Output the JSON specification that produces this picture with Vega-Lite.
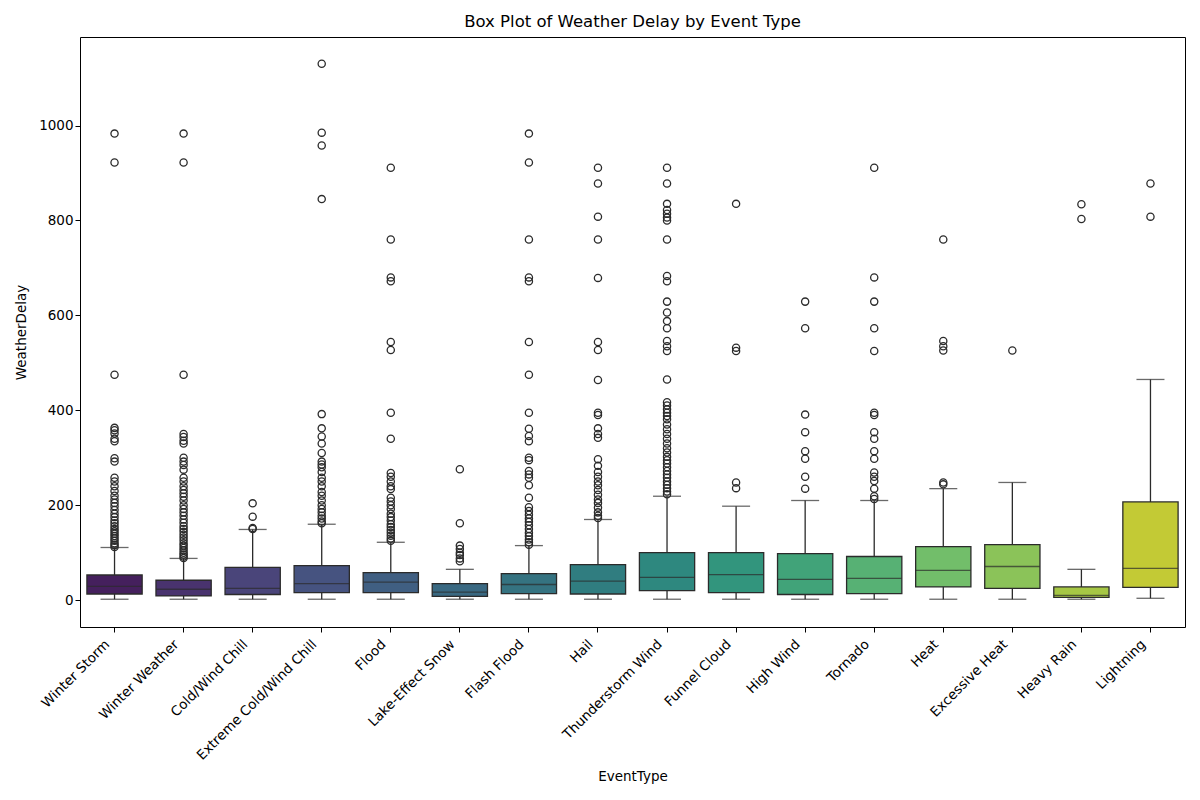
{
  "$schema": "https://vega.github.io/schema/vega-lite/v6.json",
  "width": 1105,
  "height": 590,
  "autosize": "none",
  "padding": {"left": 80, "top": 37, "right": 15, "bottom": 173},
  "background": "white",
  "config": {
    "font": "DejaVu Sans",
    "view": {"stroke": "#000000", "strokeWidth": 1},
    "axis": {"labelFont": "DejaVu Sans", "titleFont": "DejaVu Sans", "labelColor": "#000", "titleColor": "#000", "titleFontWeight": "normal", "labelFontSize": 13.5, "titleFontSize": 13.5, "tickColor": "#000", "domain": false, "grid": false, "tickSize": 5}
  },
  "title": {"text": "Box Plot of Weather Delay by Event Type", "fontSize": 16.5, "fontWeight": "normal", "font": "DejaVu Sans", "color": "#000", "offset": 7},
  "datasets": {
    "boxes": [
      {"EventType": "Winter Storm", "lower": 2, "q1": 13, "median": 29, "q3": 53, "upper": 111},
      {"EventType": "Winter Weather", "lower": 2, "q1": 9, "median": 23, "q3": 42, "upper": 88},
      {"EventType": "Cold/Wind Chill", "lower": 2, "q1": 12, "median": 25, "q3": 69, "upper": 149},
      {"EventType": "Extreme Cold/Wind Chill", "lower": 2, "q1": 16, "median": 35, "q3": 73, "upper": 160},
      {"EventType": "Flood", "lower": 2, "q1": 16, "median": 38, "q3": 58, "upper": 122},
      {"EventType": "Lake-Effect Snow", "lower": 2, "q1": 8, "median": 17, "q3": 35, "upper": 65},
      {"EventType": "Flash Flood", "lower": 2, "q1": 14, "median": 33, "q3": 56, "upper": 115},
      {"EventType": "Hail", "lower": 2, "q1": 13, "median": 40, "q3": 75, "upper": 170},
      {"EventType": "Thunderstorm Wind", "lower": 2, "q1": 20, "median": 48, "q3": 100, "upper": 219},
      {"EventType": "Funnel Cloud", "lower": 2, "q1": 16, "median": 54, "q3": 100, "upper": 198},
      {"EventType": "High Wind", "lower": 2, "q1": 12, "median": 44, "q3": 98, "upper": 210},
      {"EventType": "Tornado", "lower": 2, "q1": 14, "median": 46, "q3": 92, "upper": 210},
      {"EventType": "Heat", "lower": 2, "q1": 28, "median": 63, "q3": 113, "upper": 235},
      {"EventType": "Excessive Heat", "lower": 2, "q1": 25, "median": 71, "q3": 117, "upper": 248},
      {"EventType": "Heavy Rain", "lower": 2, "q1": 6, "median": 10, "q3": 28, "upper": 65},
      {"EventType": "Lightning", "lower": 4, "q1": 27, "median": 67, "q3": 207, "upper": 465}
    ],
    "outliers": [
      {"EventType": "Winter Storm", "WeatherDelay": 983}, {"EventType": "Winter Storm", "WeatherDelay": 922}, {"EventType": "Winter Storm", "WeatherDelay": 475}, {"EventType": "Winter Storm", "WeatherDelay": 363}, {"EventType": "Winter Storm", "WeatherDelay": 358}, {"EventType": "Winter Storm", "WeatherDelay": 351}, {"EventType": "Winter Storm", "WeatherDelay": 340}, {"EventType": "Winter Storm", "WeatherDelay": 335}, {"EventType": "Winter Storm", "WeatherDelay": 299}, {"EventType": "Winter Storm", "WeatherDelay": 292}, {"EventType": "Winter Storm", "WeatherDelay": 258}, {"EventType": "Winter Storm", "WeatherDelay": 250}, {"EventType": "Winter Storm", "WeatherDelay": 240}, {"EventType": "Winter Storm", "WeatherDelay": 230}, {"EventType": "Winter Storm", "WeatherDelay": 220}, {"EventType": "Winter Storm", "WeatherDelay": 212}, {"EventType": "Winter Storm", "WeatherDelay": 205}, {"EventType": "Winter Storm", "WeatherDelay": 198}, {"EventType": "Winter Storm", "WeatherDelay": 190}, {"EventType": "Winter Storm", "WeatherDelay": 182}, {"EventType": "Winter Storm", "WeatherDelay": 175}, {"EventType": "Winter Storm", "WeatherDelay": 168}, {"EventType": "Winter Storm", "WeatherDelay": 162}, {"EventType": "Winter Storm", "WeatherDelay": 156}, {"EventType": "Winter Storm", "WeatherDelay": 150}, {"EventType": "Winter Storm", "WeatherDelay": 145}, {"EventType": "Winter Storm", "WeatherDelay": 140}, {"EventType": "Winter Storm", "WeatherDelay": 135}, {"EventType": "Winter Storm", "WeatherDelay": 130}, {"EventType": "Winter Storm", "WeatherDelay": 125}, {"EventType": "Winter Storm", "WeatherDelay": 120}, {"EventType": "Winter Storm", "WeatherDelay": 116}, {"EventType": "Winter Storm", "WeatherDelay": 112},
      {"EventType": "Winter Weather", "WeatherDelay": 983}, {"EventType": "Winter Weather", "WeatherDelay": 922}, {"EventType": "Winter Weather", "WeatherDelay": 475}, {"EventType": "Winter Weather", "WeatherDelay": 350}, {"EventType": "Winter Weather", "WeatherDelay": 344}, {"EventType": "Winter Weather", "WeatherDelay": 336}, {"EventType": "Winter Weather", "WeatherDelay": 330}, {"EventType": "Winter Weather", "WeatherDelay": 300}, {"EventType": "Winter Weather", "WeatherDelay": 292}, {"EventType": "Winter Weather", "WeatherDelay": 285}, {"EventType": "Winter Weather", "WeatherDelay": 275}, {"EventType": "Winter Weather", "WeatherDelay": 258}, {"EventType": "Winter Weather", "WeatherDelay": 250}, {"EventType": "Winter Weather", "WeatherDelay": 240}, {"EventType": "Winter Weather", "WeatherDelay": 232}, {"EventType": "Winter Weather", "WeatherDelay": 225}, {"EventType": "Winter Weather", "WeatherDelay": 218}, {"EventType": "Winter Weather", "WeatherDelay": 210}, {"EventType": "Winter Weather", "WeatherDelay": 200}, {"EventType": "Winter Weather", "WeatherDelay": 192}, {"EventType": "Winter Weather", "WeatherDelay": 185}, {"EventType": "Winter Weather", "WeatherDelay": 178}, {"EventType": "Winter Weather", "WeatherDelay": 170}, {"EventType": "Winter Weather", "WeatherDelay": 163}, {"EventType": "Winter Weather", "WeatherDelay": 156}, {"EventType": "Winter Weather", "WeatherDelay": 150}, {"EventType": "Winter Weather", "WeatherDelay": 144}, {"EventType": "Winter Weather", "WeatherDelay": 138}, {"EventType": "Winter Weather", "WeatherDelay": 132}, {"EventType": "Winter Weather", "WeatherDelay": 126}, {"EventType": "Winter Weather", "WeatherDelay": 120}, {"EventType": "Winter Weather", "WeatherDelay": 115}, {"EventType": "Winter Weather", "WeatherDelay": 110}, {"EventType": "Winter Weather", "WeatherDelay": 105}, {"EventType": "Winter Weather", "WeatherDelay": 100}, {"EventType": "Winter Weather", "WeatherDelay": 96}, {"EventType": "Winter Weather", "WeatherDelay": 92}, {"EventType": "Winter Weather", "WeatherDelay": 89},
      {"EventType": "Cold/Wind Chill", "WeatherDelay": 204}, {"EventType": "Cold/Wind Chill", "WeatherDelay": 176}, {"EventType": "Cold/Wind Chill", "WeatherDelay": 152}, {"EventType": "Cold/Wind Chill", "WeatherDelay": 150},
      {"EventType": "Extreme Cold/Wind Chill", "WeatherDelay": 1130}, {"EventType": "Extreme Cold/Wind Chill", "WeatherDelay": 985}, {"EventType": "Extreme Cold/Wind Chill", "WeatherDelay": 958}, {"EventType": "Extreme Cold/Wind Chill", "WeatherDelay": 845}, {"EventType": "Extreme Cold/Wind Chill", "WeatherDelay": 392}, {"EventType": "Extreme Cold/Wind Chill", "WeatherDelay": 362}, {"EventType": "Extreme Cold/Wind Chill", "WeatherDelay": 345}, {"EventType": "Extreme Cold/Wind Chill", "WeatherDelay": 330}, {"EventType": "Extreme Cold/Wind Chill", "WeatherDelay": 310}, {"EventType": "Extreme Cold/Wind Chill", "WeatherDelay": 292}, {"EventType": "Extreme Cold/Wind Chill", "WeatherDelay": 286}, {"EventType": "Extreme Cold/Wind Chill", "WeatherDelay": 280}, {"EventType": "Extreme Cold/Wind Chill", "WeatherDelay": 270}, {"EventType": "Extreme Cold/Wind Chill", "WeatherDelay": 258}, {"EventType": "Extreme Cold/Wind Chill", "WeatherDelay": 250}, {"EventType": "Extreme Cold/Wind Chill", "WeatherDelay": 240}, {"EventType": "Extreme Cold/Wind Chill", "WeatherDelay": 228}, {"EventType": "Extreme Cold/Wind Chill", "WeatherDelay": 220}, {"EventType": "Extreme Cold/Wind Chill", "WeatherDelay": 210}, {"EventType": "Extreme Cold/Wind Chill", "WeatherDelay": 200}, {"EventType": "Extreme Cold/Wind Chill", "WeatherDelay": 192}, {"EventType": "Extreme Cold/Wind Chill", "WeatherDelay": 185}, {"EventType": "Extreme Cold/Wind Chill", "WeatherDelay": 178}, {"EventType": "Extreme Cold/Wind Chill", "WeatherDelay": 172}, {"EventType": "Extreme Cold/Wind Chill", "WeatherDelay": 166}, {"EventType": "Extreme Cold/Wind Chill", "WeatherDelay": 162},
      {"EventType": "Flood", "WeatherDelay": 911}, {"EventType": "Flood", "WeatherDelay": 760}, {"EventType": "Flood", "WeatherDelay": 680}, {"EventType": "Flood", "WeatherDelay": 672}, {"EventType": "Flood", "WeatherDelay": 544}, {"EventType": "Flood", "WeatherDelay": 527}, {"EventType": "Flood", "WeatherDelay": 395}, {"EventType": "Flood", "WeatherDelay": 340}, {"EventType": "Flood", "WeatherDelay": 268}, {"EventType": "Flood", "WeatherDelay": 260}, {"EventType": "Flood", "WeatherDelay": 250}, {"EventType": "Flood", "WeatherDelay": 240}, {"EventType": "Flood", "WeatherDelay": 234}, {"EventType": "Flood", "WeatherDelay": 216}, {"EventType": "Flood", "WeatherDelay": 208}, {"EventType": "Flood", "WeatherDelay": 200}, {"EventType": "Flood", "WeatherDelay": 192}, {"EventType": "Flood", "WeatherDelay": 182}, {"EventType": "Flood", "WeatherDelay": 175}, {"EventType": "Flood", "WeatherDelay": 168}, {"EventType": "Flood", "WeatherDelay": 160}, {"EventType": "Flood", "WeatherDelay": 154}, {"EventType": "Flood", "WeatherDelay": 148}, {"EventType": "Flood", "WeatherDelay": 142}, {"EventType": "Flood", "WeatherDelay": 136}, {"EventType": "Flood", "WeatherDelay": 130}, {"EventType": "Flood", "WeatherDelay": 125},
      {"EventType": "Lake-Effect Snow", "WeatherDelay": 276}, {"EventType": "Lake-Effect Snow", "WeatherDelay": 162}, {"EventType": "Lake-Effect Snow", "WeatherDelay": 115}, {"EventType": "Lake-Effect Snow", "WeatherDelay": 108}, {"EventType": "Lake-Effect Snow", "WeatherDelay": 100}, {"EventType": "Lake-Effect Snow", "WeatherDelay": 95}, {"EventType": "Lake-Effect Snow", "WeatherDelay": 88}, {"EventType": "Lake-Effect Snow", "WeatherDelay": 82},
      {"EventType": "Flash Flood", "WeatherDelay": 983}, {"EventType": "Flash Flood", "WeatherDelay": 922}, {"EventType": "Flash Flood", "WeatherDelay": 760}, {"EventType": "Flash Flood", "WeatherDelay": 680}, {"EventType": "Flash Flood", "WeatherDelay": 672}, {"EventType": "Flash Flood", "WeatherDelay": 544}, {"EventType": "Flash Flood", "WeatherDelay": 475}, {"EventType": "Flash Flood", "WeatherDelay": 395}, {"EventType": "Flash Flood", "WeatherDelay": 361}, {"EventType": "Flash Flood", "WeatherDelay": 346}, {"EventType": "Flash Flood", "WeatherDelay": 335}, {"EventType": "Flash Flood", "WeatherDelay": 300}, {"EventType": "Flash Flood", "WeatherDelay": 295}, {"EventType": "Flash Flood", "WeatherDelay": 272}, {"EventType": "Flash Flood", "WeatherDelay": 265}, {"EventType": "Flash Flood", "WeatherDelay": 258}, {"EventType": "Flash Flood", "WeatherDelay": 242}, {"EventType": "Flash Flood", "WeatherDelay": 216}, {"EventType": "Flash Flood", "WeatherDelay": 196}, {"EventType": "Flash Flood", "WeatherDelay": 188}, {"EventType": "Flash Flood", "WeatherDelay": 180}, {"EventType": "Flash Flood", "WeatherDelay": 172}, {"EventType": "Flash Flood", "WeatherDelay": 165}, {"EventType": "Flash Flood", "WeatherDelay": 158}, {"EventType": "Flash Flood", "WeatherDelay": 150}, {"EventType": "Flash Flood", "WeatherDelay": 142}, {"EventType": "Flash Flood", "WeatherDelay": 135}, {"EventType": "Flash Flood", "WeatherDelay": 128}, {"EventType": "Flash Flood", "WeatherDelay": 122}, {"EventType": "Flash Flood", "WeatherDelay": 117},
      {"EventType": "Hail", "WeatherDelay": 911}, {"EventType": "Hail", "WeatherDelay": 878}, {"EventType": "Hail", "WeatherDelay": 808}, {"EventType": "Hail", "WeatherDelay": 760}, {"EventType": "Hail", "WeatherDelay": 679}, {"EventType": "Hail", "WeatherDelay": 544}, {"EventType": "Hail", "WeatherDelay": 527}, {"EventType": "Hail", "WeatherDelay": 464}, {"EventType": "Hail", "WeatherDelay": 395}, {"EventType": "Hail", "WeatherDelay": 390}, {"EventType": "Hail", "WeatherDelay": 362}, {"EventType": "Hail", "WeatherDelay": 350}, {"EventType": "Hail", "WeatherDelay": 342}, {"EventType": "Hail", "WeatherDelay": 297}, {"EventType": "Hail", "WeatherDelay": 283}, {"EventType": "Hail", "WeatherDelay": 270}, {"EventType": "Hail", "WeatherDelay": 260}, {"EventType": "Hail", "WeatherDelay": 250}, {"EventType": "Hail", "WeatherDelay": 242}, {"EventType": "Hail", "WeatherDelay": 232}, {"EventType": "Hail", "WeatherDelay": 222}, {"EventType": "Hail", "WeatherDelay": 212}, {"EventType": "Hail", "WeatherDelay": 205}, {"EventType": "Hail", "WeatherDelay": 195}, {"EventType": "Hail", "WeatherDelay": 185}, {"EventType": "Hail", "WeatherDelay": 178}, {"EventType": "Hail", "WeatherDelay": 173},
      {"EventType": "Thunderstorm Wind", "WeatherDelay": 911}, {"EventType": "Thunderstorm Wind", "WeatherDelay": 878}, {"EventType": "Thunderstorm Wind", "WeatherDelay": 835}, {"EventType": "Thunderstorm Wind", "WeatherDelay": 822}, {"EventType": "Thunderstorm Wind", "WeatherDelay": 814}, {"EventType": "Thunderstorm Wind", "WeatherDelay": 806}, {"EventType": "Thunderstorm Wind", "WeatherDelay": 800}, {"EventType": "Thunderstorm Wind", "WeatherDelay": 760}, {"EventType": "Thunderstorm Wind", "WeatherDelay": 683}, {"EventType": "Thunderstorm Wind", "WeatherDelay": 672}, {"EventType": "Thunderstorm Wind", "WeatherDelay": 629}, {"EventType": "Thunderstorm Wind", "WeatherDelay": 606}, {"EventType": "Thunderstorm Wind", "WeatherDelay": 588}, {"EventType": "Thunderstorm Wind", "WeatherDelay": 573}, {"EventType": "Thunderstorm Wind", "WeatherDelay": 546}, {"EventType": "Thunderstorm Wind", "WeatherDelay": 535}, {"EventType": "Thunderstorm Wind", "WeatherDelay": 525}, {"EventType": "Thunderstorm Wind", "WeatherDelay": 465}, {"EventType": "Thunderstorm Wind", "WeatherDelay": 417}, {"EventType": "Thunderstorm Wind", "WeatherDelay": 410}, {"EventType": "Thunderstorm Wind", "WeatherDelay": 402}, {"EventType": "Thunderstorm Wind", "WeatherDelay": 395}, {"EventType": "Thunderstorm Wind", "WeatherDelay": 388}, {"EventType": "Thunderstorm Wind", "WeatherDelay": 381}, {"EventType": "Thunderstorm Wind", "WeatherDelay": 370}, {"EventType": "Thunderstorm Wind", "WeatherDelay": 360}, {"EventType": "Thunderstorm Wind", "WeatherDelay": 350}, {"EventType": "Thunderstorm Wind", "WeatherDelay": 340}, {"EventType": "Thunderstorm Wind", "WeatherDelay": 330}, {"EventType": "Thunderstorm Wind", "WeatherDelay": 320}, {"EventType": "Thunderstorm Wind", "WeatherDelay": 311}, {"EventType": "Thunderstorm Wind", "WeatherDelay": 302}, {"EventType": "Thunderstorm Wind", "WeatherDelay": 295}, {"EventType": "Thunderstorm Wind", "WeatherDelay": 288}, {"EventType": "Thunderstorm Wind", "WeatherDelay": 280}, {"EventType": "Thunderstorm Wind", "WeatherDelay": 272}, {"EventType": "Thunderstorm Wind", "WeatherDelay": 265}, {"EventType": "Thunderstorm Wind", "WeatherDelay": 258}, {"EventType": "Thunderstorm Wind", "WeatherDelay": 250}, {"EventType": "Thunderstorm Wind", "WeatherDelay": 243}, {"EventType": "Thunderstorm Wind", "WeatherDelay": 236}, {"EventType": "Thunderstorm Wind", "WeatherDelay": 229}, {"EventType": "Thunderstorm Wind", "WeatherDelay": 223},
      {"EventType": "Funnel Cloud", "WeatherDelay": 835}, {"EventType": "Funnel Cloud", "WeatherDelay": 532}, {"EventType": "Funnel Cloud", "WeatherDelay": 525}, {"EventType": "Funnel Cloud", "WeatherDelay": 248}, {"EventType": "Funnel Cloud", "WeatherDelay": 236},
      {"EventType": "High Wind", "WeatherDelay": 629}, {"EventType": "High Wind", "WeatherDelay": 573}, {"EventType": "High Wind", "WeatherDelay": 391}, {"EventType": "High Wind", "WeatherDelay": 354}, {"EventType": "High Wind", "WeatherDelay": 314}, {"EventType": "High Wind", "WeatherDelay": 298}, {"EventType": "High Wind", "WeatherDelay": 260}, {"EventType": "High Wind", "WeatherDelay": 235},
      {"EventType": "Tornado", "WeatherDelay": 911}, {"EventType": "Tornado", "WeatherDelay": 680}, {"EventType": "Tornado", "WeatherDelay": 629}, {"EventType": "Tornado", "WeatherDelay": 573}, {"EventType": "Tornado", "WeatherDelay": 525}, {"EventType": "Tornado", "WeatherDelay": 395}, {"EventType": "Tornado", "WeatherDelay": 390}, {"EventType": "Tornado", "WeatherDelay": 354}, {"EventType": "Tornado", "WeatherDelay": 340}, {"EventType": "Tornado", "WeatherDelay": 314}, {"EventType": "Tornado", "WeatherDelay": 298}, {"EventType": "Tornado", "WeatherDelay": 269}, {"EventType": "Tornado", "WeatherDelay": 260}, {"EventType": "Tornado", "WeatherDelay": 251}, {"EventType": "Tornado", "WeatherDelay": 235}, {"EventType": "Tornado", "WeatherDelay": 219}, {"EventType": "Tornado", "WeatherDelay": 213},
      {"EventType": "Heat", "WeatherDelay": 760}, {"EventType": "Heat", "WeatherDelay": 546}, {"EventType": "Heat", "WeatherDelay": 535}, {"EventType": "Heat", "WeatherDelay": 526}, {"EventType": "Heat", "WeatherDelay": 248}, {"EventType": "Heat", "WeatherDelay": 244},
      {"EventType": "Excessive Heat", "WeatherDelay": 526},
      {"EventType": "Heavy Rain", "WeatherDelay": 834}, {"EventType": "Heavy Rain", "WeatherDelay": 803},
      {"EventType": "Lightning", "WeatherDelay": 878}, {"EventType": "Lightning", "WeatherDelay": 808}
    ]
  },
  "encoding": {
    "x": {
      "field": "EventType",
      "type": "nominal",
      "sort": ["Winter Storm", "Winter Weather", "Cold/Wind Chill", "Extreme Cold/Wind Chill", "Flood", "Lake-Effect Snow", "Flash Flood", "Hail", "Thunderstorm Wind", "Funnel Cloud", "High Wind", "Tornado", "Heat", "Excessive Heat", "Heavy Rain", "Lightning"],
      "scale": {"type": "band", "paddingInner": 0, "paddingOuter": 0},
      "title": "EventType",
      "axis": {"labelAngle": -45, "labelAlign": "right", "labelBaseline": "top", "labelPadding": 5, "labelOffset": -12, "titlePadding": 8}
    }
  },
  "layer": [
    {
      "data": {"name": "boxes"},
      "mark": {"type": "rule", "color": "#2b2b2b", "strokeWidth": 1.3},
      "encoding": {
        "y": {"field": "lower", "type": "quantitative", "scale": {"domain": [-56.5, 1186.5], "nice": false, "zero": false}, "title": "WeatherDelay", "axis": {"values": [0, 200, 400, 600, 800, 1000], "format": "d", "titlePadding": 10}},
        "y2": {"field": "upper"}
      }
    },
    {
      "data": {"name": "boxes"},
      "mark": {"type": "bar", "width": {"band": 0.8}, "stroke": "#2b2b2b", "strokeWidth": 1.3},
      "encoding": {
        "y": {"field": "q1", "type": "quantitative"},
        "y2": {"field": "q3"},
        "color": {
          "field": "EventType",
          "type": "nominal",
          "legend": null,
          "scale": {
            "domain": ["Winter Storm", "Winter Weather", "Cold/Wind Chill", "Extreme Cold/Wind Chill", "Flood", "Lake-Effect Snow", "Flash Flood", "Hail", "Thunderstorm Wind", "Funnel Cloud", "High Wind", "Tornado", "Heat", "Excessive Heat", "Heavy Rain", "Lightning"],
            "range": ["#45205d", "#49336e", "#4a457a", "#465380", "#405f82", "#3a6982", "#357381", "#307d80", "#2e887f", "#32957d", "#41a379", "#57b174", "#72be6a", "#8bc359", "#a6c745", "#c3ca35"]
          }
        }
      }
    },
    {
      "data": {"name": "boxes"},
      "mark": {"type": "tick", "color": "#2b2b2b", "size": 55, "thickness": 1.3},
      "encoding": {"y": {"field": "median", "type": "quantitative"}}
    },
    {
      "data": {"name": "boxes"},
      "mark": {"type": "tick", "color": "#2b2b2b", "size": 28, "thickness": 1.3},
      "encoding": {"y": {"field": "lower", "type": "quantitative"}}
    },
    {
      "data": {"name": "boxes"},
      "mark": {"type": "tick", "color": "#2b2b2b", "size": 28, "thickness": 1.3},
      "encoding": {"y": {"field": "upper", "type": "quantitative"}}
    },
    {
      "data": {"name": "outliers"},
      "mark": {"type": "point", "filled": false, "stroke": "#2b2b2b", "strokeWidth": 1.3, "size": 52, "opacity": 1},
      "encoding": {"y": {"field": "WeatherDelay", "type": "quantitative"}}
    }
  ]
}
